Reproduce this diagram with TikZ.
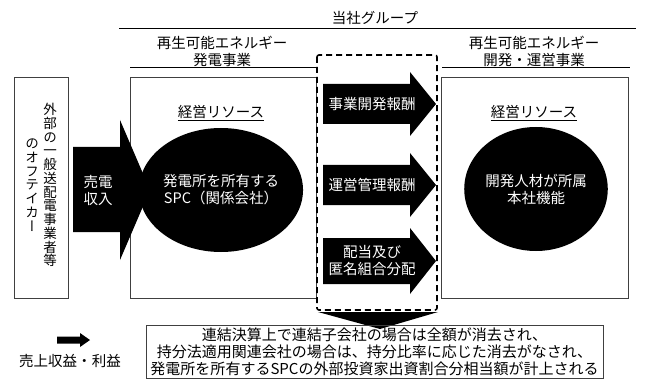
\documentclass[tikz,border=0pt]{standalone}
\usepackage{fontspec}
\setmainfont{Noto Sans CJK JP}
\newfontfamily\vjp[RawFeature=+vert]{Noto Sans CJK JP}
\usetikzlibrary{shapes.geometric}

\begin{document}
\begin{tikzpicture}[x=1pt, y=-1pt,
  lbl/.style={inner sep=0pt, align=center, font=\fontsize{14.5}{17}\selectfont},
  wlbl/.style={lbl, text=white},
  vlbl/.style={inner sep=0pt, align=center, font=\vjp\fontsize{13.5}{13.75}\selectfont},
  frame/.style={draw=black!75, line width=0.8pt},
  rule/.style={draw=black, line width=1pt},
  res/.style={ellipse, fill=black, inner sep=0pt, text=white, align=center,
    font=\fontsize{14.5}{17}\selectfont}]
  \useasboundingbox (0,0) rectangle (650,390);

  % group heading
  \node[lbl] (grp) at (375,18) {当社グループ};
  \draw[rule] (119,29) -- (636,29);
  \node[lbl] (genhd) at (222,51) {再生可能エネルギー\\発電事業};
  \node[lbl] (devhd) at (534,51) {再生可能エネルギー\\開発・運営事業};
  \draw[rule] (130,68) -- (316,68);
  \draw[rule] (442,68) -- (630,68);

  % boxes
  \draw[frame] (14,77) rectangle (68,298);
  \draw[frame] (130,77) rectangle (316,298);
  \draw[frame] (441,77) rectangle (628,298);

  % offtaker
  \node[vlbl] (buyer) at (50,185) {外\\部\\の\\一\\般\\送\\配\\電\\事\\業\\者\\等};
  \node[vlbl] (buyertwo) at (32,185) {の\\オ\\フ\\テ\\イ\\カ\\ー};

  % sales arrow
  \fill (73,147) -- (120,147) -- (120,120) -- (150,190) -- (120,260) -- (120,232) -- (73,232) -- cycle;
  \node[wlbl] (sales) at (98,190) {売電\\収入};

  % resources
  \node[lbl] (resl) at (221,113) {\underline{経営リソース}};
  \node[res, minimum width=146pt, minimum height=124pt] (spc) at (221,190) {発電所を所有する\\SPC（関係会社）};
  \node[lbl] (resr) at (534,113) {\underline{経営リソース}};
  \node[res, minimum width=142pt, minimum height=124pt] (hq) at (536,189) {開発人材が所属\\本社機能};

  % fees
  \draw[line width=1.6pt, dash pattern=on 6pt off 4pt, rounded corners=2pt] (317,55) rectangle (437,310);
  \fill (323,84) -- (410,84) -- (410,72) -- (436,104) -- (410,136) -- (410,124) -- (323,124) -- cycle;
  \node[wlbl] (devfee) at (372,104) {事業開発報酬};
  \fill (323,165) -- (410,165) -- (410,153) -- (436,185) -- (410,217) -- (410,205) -- (323,205) -- cycle;
  \node[wlbl] (opfee) at (372,185) {運営管理報酬};
  \fill (323,238) -- (410,238) -- (410,228) -- (436,261) -- (410,294) -- (410,284) -- (323,284) -- cycle;
  \node[wlbl] (divid) at (372,261) {配当及び\\匿名組合分配};
  \fill (318,312) -- (438,312) -- (380,329) -- cycle;

  % note
  \node[frame, inner sep=0pt, minimum width=457pt, minimum height=53pt, align=center,
    font=\fontsize{15}{17}\selectfont] (note) at (374.5,351.5)
    {連結決算上で連結子会社の場合は全額が消去され、\\持分法適用関連会社の場合は、持分比率に応じた消去がなされ、\\発電所を所有するSPCの外部投資家出資割合分相当額が計上される};

  % legend
  \fill (57,336.5) -- (80,336.5) -- (80,333) -- (90,340) -- (80,347) -- (80,343.5) -- (57,343.5) -- cycle;
  \node[lbl] (legend) at (70,361) {売上収益・利益};
\end{tikzpicture}
\end{document}
